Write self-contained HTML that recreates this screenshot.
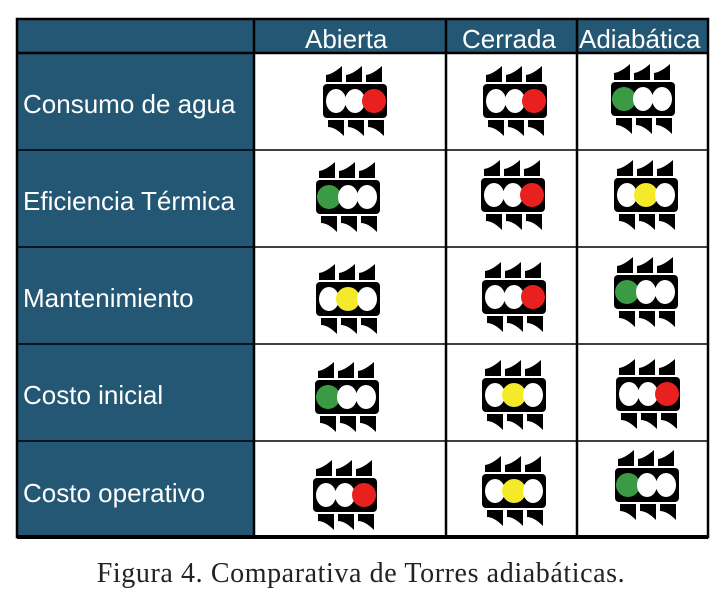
<!DOCTYPE html>
<html><head><meta charset="utf-8"><style>
body{margin:0;width:722px;height:612px;background:#fff;position:relative;overflow:hidden;font-family:"Liberation Sans",sans-serif}
.t{position:absolute;color:#fff;font-size:26px;white-space:nowrap}
.cap{position:absolute;left:0;width:722px;top:558px;text-align:center;font-family:"Liberation Serif",serif;font-size:28px;color:#222;letter-spacing:0.6px}
</style></head><body>
<svg width="722" height="612" style="position:absolute;left:0;top:0">
<defs>
<g id="tl">
<path d="M3,-2 L3,-9 Q10,-10 19,-18 L19,-2 Z M23,-2 L23,-9 Q30,-10 39,-18 L39,-2 Z M43,-2 L43,-9 Q50,-10 59,-18 L59,-2 Z" fill="#000"/>
<path d="M5,36 L21,36 L21,52 Q12,43 5,43 Z M25,36 L41,36 L41,52 Q32,43 25,43 Z M45,36 L61,36 L61,52 Q52,43 45,43 Z" fill="#000"/>
<rect x="0" y="0" width="64" height="34" rx="4" fill="#000"/>
</g>
</defs>
<rect x="17" y="19" width="691" height="518" fill="#fff"/>
<rect x="17" y="19" width="237" height="518" fill="#235773"/>
<rect x="17" y="19" width="691" height="34" fill="#235773"/>
<g stroke="#000" stroke-width="2.5" fill="none">
<rect x="17" y="19" width="691" height="518"/>
<line x1="254" y1="19" x2="254" y2="537"/>
<line x1="446" y1="19" x2="446" y2="537"/>
<line x1="577" y1="19" x2="577" y2="537"/>
<line x1="17" y1="53" x2="708" y2="53"/>
</g>
<g stroke="#000" stroke-width="1.5">
<line x1="17" y1="150" x2="708" y2="150"/>
<line x1="17" y1="247" x2="708" y2="247"/>
<line x1="17" y1="344" x2="708" y2="344"/>
<line x1="17" y1="441" x2="708" y2="441"/>
</g>
<line x1="17" y1="537" x2="708" y2="537" stroke="#000" stroke-width="4"/>
<g id="icons"></g>
</svg>
<div class="t" style="left:305px;top:24px">Abierta</div>
<div class="t" style="left:462px;top:24px">Cerrada</div>
<div class="t" style="left:579px;top:24px">Adiabática</div>
<div class="t" style="left:23px;top:89px">Consumo de agua</div>
<div class="t" style="left:23px;top:186px">Eficiencia Térmica</div>
<div class="t" style="left:23px;top:283px">Mantenimiento</div>
<div class="t" style="left:23px;top:380px">Costo inicial</div>
<div class="t" style="left:23px;top:478px">Costo operativo</div>
<div class="cap">Figura 4. Comparativa de Torres adiabáticas.</div>
<script>
var L=[[323,84,'r'],[483,84,'r'],[611,82,'g'],[316,180,'g'],[481,178,'r'],[614,178,'y'],[316,282,'y'],[482,280,'r'],[614,275,'g'],[315,380,'g'],[482,378,'y'],[616,377,'r'],[313,478,'r'],[482,474,'y'],[615,468,'g']];
var s='';L.forEach(function(a){var x=a[0],y=a[1],c=a[2];
var f=['#fff','#fff','#fff'];
if(c=='r')f[2]='#e8211f';if(c=='g')f[0]='#3a9b44';if(c=='y')f[1]='#f5ea2a';
s+='<g transform="translate('+x+','+y+')"><use href="#tl"/>';
[13,32,51].forEach(function(cx,i){s+='<ellipse cx="'+cx+'" cy="17" rx="'+(f[i]=='#fff'?10:12)+'" ry="12" fill="'+f[i]+'"/>';});
s+='</g>';});
document.getElementById('icons').innerHTML=s;
</script>
</body></html>
